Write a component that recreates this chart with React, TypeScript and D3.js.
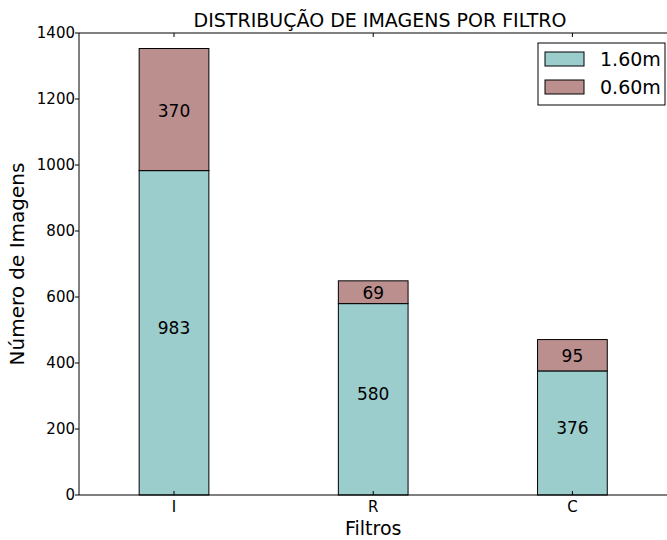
import React from "react";
import * as d3 from "d3";

const categories = ["I", "R", "C"];
const series160 = [983, 580, 376];
const series060 = [370, 69, 95];
const seriesNames = ["1.60m", "0.60m"];
const yTicks = [0, 200, 400, 600, 800, 1000, 1200, 1400];

const W = 667, H = 540;
const m = { left: 79, top: 33, bottom: 495, right: 672 };
const colors = ["#9ccdcd", "#bc8f8f"];
const font = "DejaVu Sans, sans-serif";

export default function App() {
  const x = d3.scaleLinear().domain([-0.477, 2.5]).range([m.left, m.right]);
  const y = d3.scaleLinear().domain([0, 1400]).range([m.bottom, m.top]);
  const bw = 0.35;
  return (
    <svg width={W} height={H} style={{ position: "absolute", left: 0, top: 0 }} fontFamily={font}>
      <rect x={0} y={0} width={W} height={H} fill="white" />
      {categories.map((c, i) => {
        const x0 = x(i - bw / 2), x1 = x(i + bw / 2);
        const a = series160[i], b = series060[i];
        return (
          <g key={c}>
            <rect x={x0} y={y(a)} width={x1 - x0} height={y(0) - y(a)} fill={colors[0]} stroke="#000" strokeWidth={1} />
            <rect x={x0} y={y(a + b)} width={x1 - x0} height={y(a) - y(a + b)} fill={colors[1]} stroke="#000" strokeWidth={1} />
            <text x={x(i)} y={y(a / 2)} dy={-5} textAnchor="middle" dominantBaseline="central" fontSize={17}>{a}</text>
            <text x={x(i)} y={y(a + b / 2)} dy={1} textAnchor="middle" dominantBaseline="central" fontSize={17}>{b}</text>
            <line x1={x(i)} x2={x(i)} y1={m.bottom} y2={m.bottom - 4} stroke="#000" />
            <line x1={x(i)} x2={x(i)} y1={m.top} y2={m.top + 4} stroke="#000" />
            <text x={x(i)} y={m.bottom + 17} textAnchor="middle" fontSize={15}>{c}</text>
          </g>
        );
      })}
      {yTicks.map((t) => (
        <g key={t}>
          <line x1={m.left - 4} x2={m.left} y1={y(t)} y2={y(t)} stroke="#000" />
          <text x={m.left - 4} y={y(t)} textAnchor="end" dominantBaseline="central" fontSize={15}>{t}</text>
        </g>
      ))}
      <line x1={m.left} x2={m.left} y1={m.top} y2={m.bottom} stroke="#000" />
      <line x1={m.left} x2={W} y1={m.bottom} y2={m.bottom} stroke="#000" />
      <line x1={m.left} x2={W} y1={m.top} y2={m.top} stroke="#000" />
      <text x={380} y={27} textAnchor="middle" fontSize={19}>DISTRIBUÇÃO DE IMAGENS POR FILTRO</text>
      <text x={x(1)} y={535} textAnchor="middle" fontSize={19}>Filtros</text>
      <text transform={`translate(24,${264}) rotate(-90)`} textAnchor="middle" fontSize={20}>Número de Imagens</text>
      <g>
        <rect x={538} y={43} width={127} height={62} fill="white" stroke="#000" />
        {seriesNames.map((n, i) => (
          <g key={n}>
            <rect x={545} y={52 + i * 28} width={39} height={14} fill={colors[i]} stroke="#000" />
            <text x={600} y={59 + i * 28} dominantBaseline="central" fontSize={19}>{n}</text>
          </g>
        ))}
      </g>
    </svg>
  );
}
